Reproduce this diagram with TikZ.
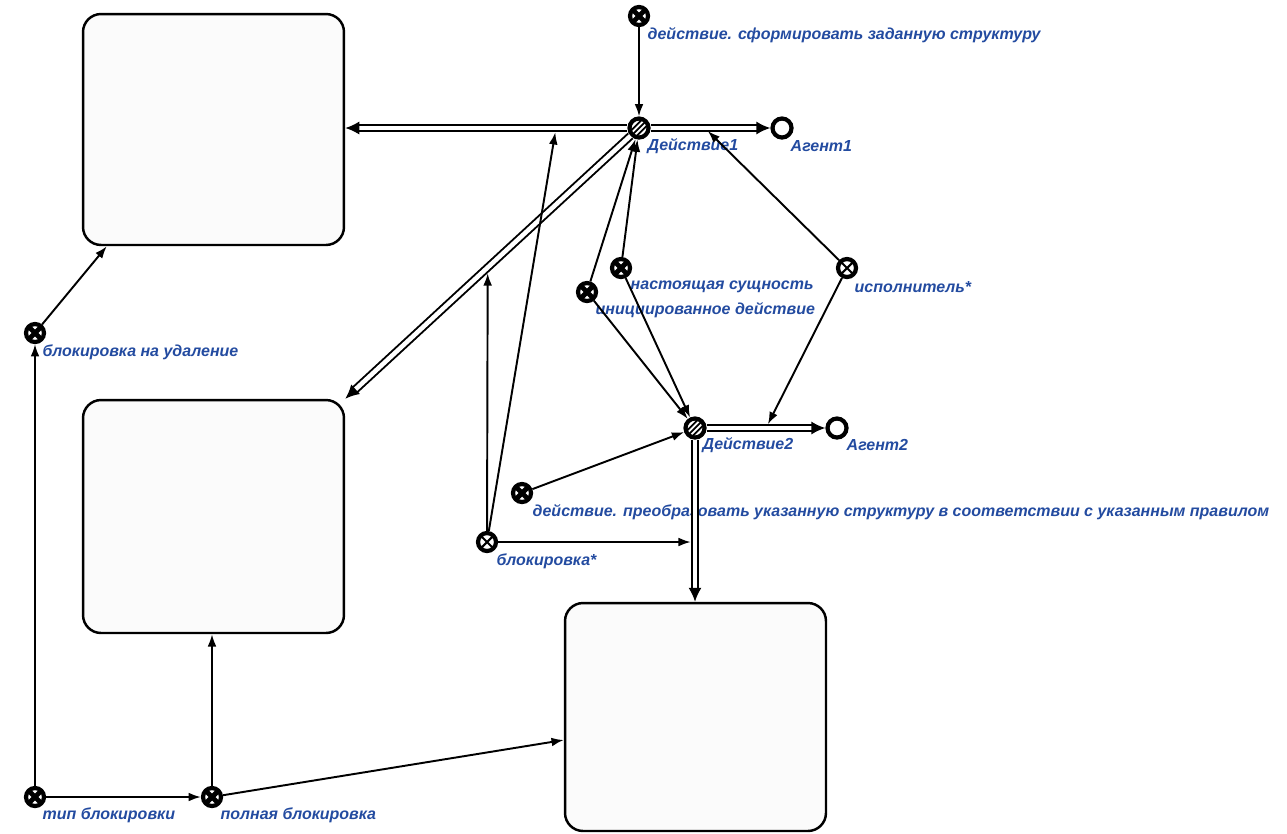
\documentclass[tikz,border=0pt]{standalone}
\usepackage{fontspec}
\newfontfamily\lblfont{Liberation Sans}
\usetikzlibrary{arrows.meta,calc}
\definecolor{lblblue}{RGB}{35,75,160}

\begin{document}
\begin{tikzpicture}[
		x=0.02cm, y=-0.02cm,
		thick,
		every node/.style={inner sep=0pt},
		cls/.style={circle, draw, line width=2.4pt, fill=white, minimum size=0.36cm,
			path picture={\draw[line width=2.8pt] (path picture bounding box.south west) -- (path picture bounding box.north east) (path picture bounding box.north west) -- (path picture bounding box.south east);}},
		rel/.style={circle, draw, line width=2.4pt, fill=white, minimum size=0.36cm,
			path picture={\draw[line width=1.2pt] (path picture bounding box.south west) -- (path picture bounding box.north east) (path picture bounding box.north west) -- (path picture bounding box.south east);}},
		act/.style={circle, draw, line width=2.4pt, fill=white, minimum size=0.38cm,
			path picture={\foreach \k in {-0.11,0,0.11} \draw[line width=1pt] ([xshift=\k cm]path picture bounding box.south west) -- ([xshift=\k cm]path picture bounding box.north east);}},
		agt/.style={circle, draw, line width=2.4pt, fill=white, minimum size=0.38cm},
		sbox/.style={draw, line width=1.4pt, rounded corners=0.36cm, fill=black!1.5, minimum width=5.22cm},
		lbl/.style={anchor=west, font=\lblfont\bfseries\itshape\fontsize{9.1}{11}\selectfont, text=lblblue},
		arr/.style={-{Latex[length=7pt,width=5pt]}, line width=1.1pt},
		dbl/.style={double=white, double distance=2.6pt, line width=1.1pt, -{Latex[length=8pt,width=7.5pt]}}
	]
	\useasboundingbox (0,0) rectangle (1287,833);
	% boxes
	\node[sbox, minimum height=4.62cm] (b1) at (213.5,129.5) {};
	\node[sbox, minimum height=4.66cm] (b2) at (213.5,516.5) {};
	\node[sbox, minimum height=4.56cm] (b3) at (695.5,717) {};
	% sc-nodes
	\node[cls] (frm) at (639,16) {};
	\node[act] (d1) at (639,128) {};
	\node[agt] (a1) at (782,128) {};
	\node[cls] (nast) at (621,268) {};
	\node[cls] (init) at (587,292) {};
	\node[rel] (isp) at (847,268) {};
	\node[act] (d2) at (695,428) {};
	\node[agt] (a2) at (837,428) {};
	\node[cls] (preob) at (522,493) {};
	\node[rel] (blk) at (487,542) {};
	\node[cls] (bdel) at (35,333) {};
	\node[cls] (tip) at (35,797) {};
	\node[cls] (poln) at (212,797) {};
	% labels
	\node[lbl] (frmt) at ($(frm)+(8,19)$) {действие. сформировать заданную структуру};
	\node[lbl] (d1t) at ($(d1)+(8,18)$) {Действие1};
	\node[lbl] (a1t) at ($(a1)+(8,18)$) {Агент1};
	\node[lbl] (nastt) at ($(nast)+(9,19)$) {настоящая сущность};
	\node[lbl] (initt) at ($(init)+(8,18)$) {инициированное действие};
	\node[lbl] (ispt) at ($(isp)+(7,19)$) {исполнитель*};
	\node[lbl] (d2t) at ($(d2)+(7,17)$) {Действие2};
	\node[lbl] (a2t) at ($(a2)+(9,17)$) {Агент2};
	\node[lbl] (preobt) at ($(preob)+(10,19)$) {действие. преобразовать указанную структуру в соответствии с указанным правилом};
	\node[lbl] (blkt) at ($(blk)+(9,19)$) {блокировка*};
	\node[lbl] (bdelt) at ($(bdel)+(7,19)$) {блокировка на удаление};
	\node[lbl] (tipt) at ($(tip)+(7,18)$) {тип блокировки};
	\node[lbl] (polnt) at ($(poln)+(8,18)$) {полная блокировка};
	% double arcs
	\draw[dbl] (d1) -- (a1);
	\draw[dbl] (d1) -- (d1 -| b1.east);
	\draw[dbl] (d1) -- (b2.north east);
	\draw[dbl] (d2) -- (a2);
	\draw[dbl] (d2) -- (d2 |- b3.north);
	% points on arcs
	\coordinate (m1) at ($(d1)!0.46!(a1)$);
	\coordinate (m2) at ($(d2)!0.5!(a2)$);
	\coordinate (m3) at (556,128);
	\coordinate (m4) at ($(d1)!0.515!(b2.north east)$);
	\coordinate (m5) at (d2 |- blk);
	\coordinate (b1in) at ($(b1.south west)+(25,0)$);
	\coordinate (b3in) at ($(b3.west)+(0,23)$);
	% single arcs
	\draw[arr] (frm) -- (d1);
	\draw[arr, shorten >=2.4pt] (isp) -- (m1);
	\draw[arr, shorten >=2.4pt] (isp) -- (m2);
	\draw[arr] (nast) -- (d1);
	\draw[arr] (nast) -- (d2);
	\draw[arr] (init) -- (d1);
	\draw[arr] (init) -- (d2);
	\draw[arr] (preob) -- (d2);
	\draw[arr, shorten >=2.4pt] (blk) -- (m3);
	\draw[arr, shorten >=3.3pt] (blk) -- (m4);
	\draw[arr, shorten >=2.4pt] (blk) -- (m5);
	\draw[arr] (bdel) -- (b1in);
	\draw[arr] (tip) -- (bdel);
	\draw[arr] (tip) -- (poln);
	\draw[arr] (poln) -- (poln |- b2.south);
	\draw[arr] (poln) -- (b3in);
\end{tikzpicture}
\end{document}
